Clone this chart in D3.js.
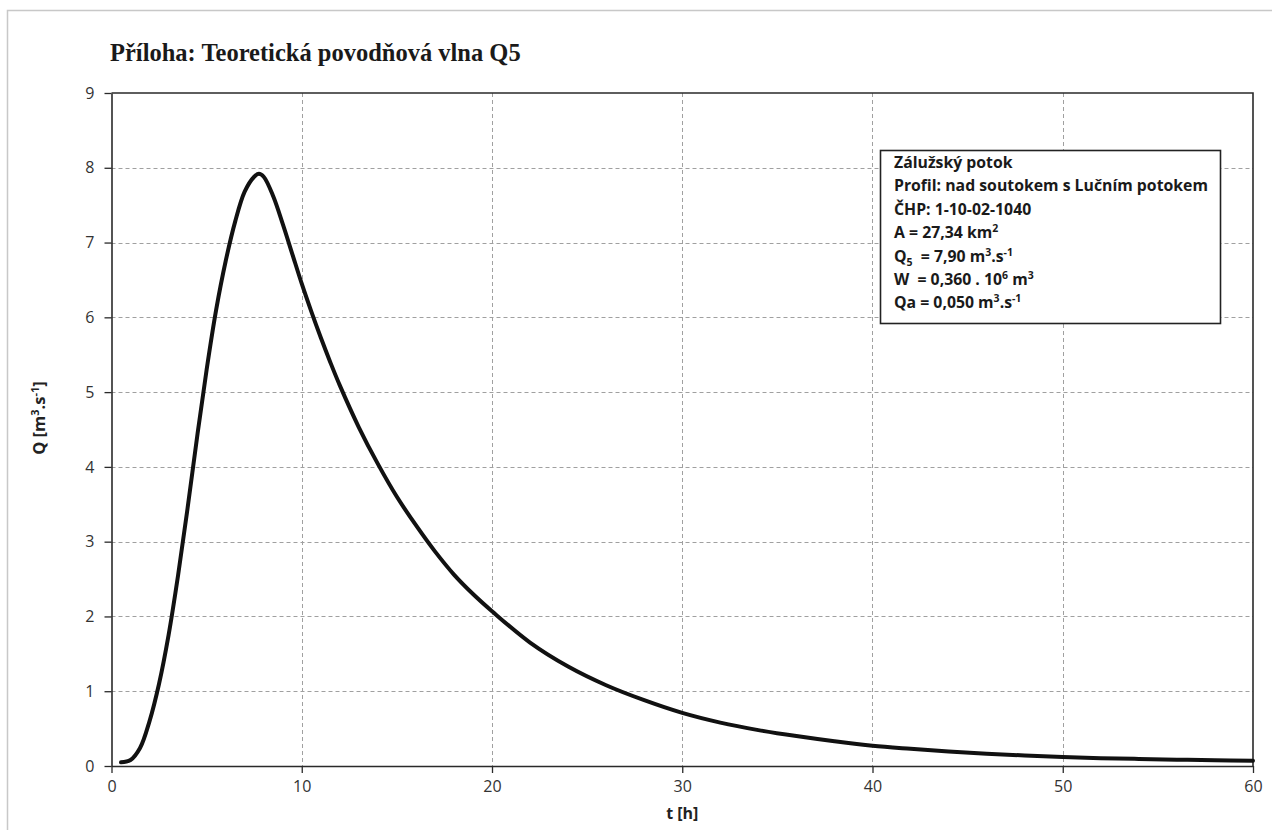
<!DOCTYPE html>
<html>
<head>
<meta charset="utf-8">
<script src="https://cdn.jsdelivr.net/npm/d3@7"></script>
<style>
  body { margin: 0; background: #fff; }
  svg { display: block; }
</style>
</head>
<body>
<svg id="chart" width="1272" height="830"></svg>
<script>
// hydrograph: time [h] and discharge [m3/s]
const hours = [0.5, 1, 1.5, 2, 2.5, 3, 3.5, 4, 4.5, 5, 5.5, 6, 6.5, 7, 7.5, 7.75, 8, 8.5, 9, 9.5,
  10, 10.5, 11, 11.5, 12, 13, 14, 15, 16, 17, 18, 19, 20, 22, 24, 26, 28, 30, 32, 34, 36, 38, 40,
  42, 44, 46, 48, 50, 52, 54, 56, 58, 60];
const discharge = [0.05, 0.08, 0.24, 0.6, 1.1, 1.75, 2.55, 3.45, 4.4, 5.3, 6.1, 6.75, 7.28, 7.68, 7.88, 7.92, 7.88, 7.62, 7.25, 6.85,
  6.45, 6.08, 5.73, 5.4, 5.09, 4.53, 4.04, 3.6, 3.22, 2.87, 2.56, 2.3, 2.07, 1.65, 1.33, 1.08, 0.88, 0.71, 0.58, 0.48, 0.40, 0.33, 0.27,
  0.23, 0.195, 0.165, 0.14, 0.12, 0.105, 0.095, 0.085, 0.077, 0.07];
const xTicks = [0, 10, 20, 30, 40, 50, 60];
const yTicks = [0, 1, 2, 3, 4, 5, 6, 7, 8, 9];

const infoLines = [
  [["Zálužský potok"]],
  [["Profil: nad soutokem s Lučním potokem"]],
  [["ČHP: 1-10-02-1040"]],
  [["A = 27,34 km"], ["2", "sup"]],
  [["Q"], ["5", "sub"], ["  = 7,90 m"], ["3", "sup"], [".s"], ["-1", "sup"]],
  [["W  = 0,360 . 10"], ["6", "sup"], [" m"], ["3", "sup"]],
  [["Qa = 0,050 m"], ["3", "sup"], [".s"], ["-1", "sup"]]
];

const data = hours.map((t, i) => ({t: t, q: discharge[i]}));

const svg = d3.select("#chart");
const margin = {left: 111.5, right: 1253, top: 93, bottom: 766};

const x = d3.scaleLinear().domain([0, 60]).range([margin.left, margin.right]);
const y = d3.scaleLinear().domain([0, 9]).range([margin.bottom, margin.top]);

// outer chart frame
svg.append("rect")
    .attr("x", 7.5).attr("y", 10.5)
    .attr("width", 1300).attr("height", 900)
    .attr("fill", "none")
    .attr("stroke", "#c8c8c8")
    .attr("stroke-width", 1.5);

svg.append("text")
    .attr("x", 110).attr("y", 61)
    .style("font", "bold 24.5px 'Liberation Serif', 'Times New Roman', serif")
    .attr("fill", "#1a1a1a")
    .text("Příloha: Teoretická povodňová vlna Q5");

// grid
const grid = svg.append("g")
    .attr("stroke", "#a0a0a0")
    .attr("stroke-width", 1)
    .attr("stroke-dasharray", "4,3");
grid.selectAll(".vg")
  .data(xTicks.slice(1, -1))
  .join("line")
    .attr("x1", d => Math.round(x(d)) + 0.5).attr("x2", d => Math.round(x(d)) + 0.5)
    .attr("y1", margin.top).attr("y2", margin.bottom);
grid.selectAll(".hg")
  .data(yTicks.slice(1, -1))
  .join("line")
    .attr("y1", d => Math.round(y(d)) + 0.5).attr("y2", d => Math.round(y(d)) + 0.5)
    .attr("x1", margin.left).attr("x2", margin.right);

// axes
const tickFont = "16px 'Open Sans', sans-serif";
const xAxis = svg.append("g")
    .attr("transform", `translate(0,${margin.bottom})`)
    .call(d3.axisBottom(x).tickValues(xTicks).tickSize(7).tickPadding(8).tickSizeOuter(0));
const yAxis = svg.append("g")
    .attr("transform", `translate(${margin.left},0)`)
    .call(d3.axisLeft(y).tickValues(yTicks).tickSize(7).tickPadding(10).tickSizeOuter(0));
[xAxis, yAxis].forEach(a => {
  a.select(".domain").attr("stroke", "#2a2a2a").attr("stroke-width", 1.6);
  a.selectAll(".tick line").attr("stroke", "#2a2a2a").attr("stroke-width", 1.3);
  a.selectAll(".tick text").style("font", tickFont).attr("fill", "#333");
});

// top and right frame of the plot
svg.append("path")
    .attr("d", `M${margin.left},${margin.top}H${margin.right}V${margin.bottom}`)
    .attr("fill", "none")
    .attr("stroke", "#2a2a2a")
    .attr("stroke-width", 1.6);

// the wave
const line = d3.line()
    .x(d => x(d.t))
    .y(d => y(d.q))
    .curve(d3.curveCatmullRom.alpha(0.5));
svg.append("path")
    .datum(data)
    .attr("d", line)
    .attr("fill", "none")
    .attr("stroke", "#111")
    .attr("stroke-width", 4)
    .attr("stroke-linecap", "round")
    .attr("stroke-linejoin", "round");

// axis titles
svg.append("text")
    .attr("x", x(30)).attr("y", 819)
    .attr("text-anchor", "middle")
    .style("font", "bold 16px 'Open Sans', sans-serif")
    .attr("fill", "#222")
    .text("t [h]");

const qTitle = svg.append("text")
    .attr("transform", "translate(45,418) rotate(-90)")
    .attr("text-anchor", "middle")
    .style("font", "bold 16.5px 'Open Sans', sans-serif")
    .attr("fill", "#222");
qTitle.append("tspan").text("Q [m");
qTitle.append("tspan").attr("dy", -6).style("font-size", "11px").text("3");
qTitle.append("tspan").attr("dy", 6).text(".s");
qTitle.append("tspan").attr("dy", -6).style("font-size", "11px").text("-1");
qTitle.append("tspan").attr("dy", 6).text("]");

// info box
const box = svg.append("g");
box.append("rect")
    .attr("x", 880.5).attr("y", 150.5)
    .attr("width", 340).attr("height", 173)
    .attr("fill", "#fff")
    .attr("stroke", "#222")
    .attr("stroke-width", 1.6);

const info = box.append("text")
    .style("font", "bold 15.8px 'Open Sans', sans-serif")
    .attr("fill", "#1a1a1a");
infoLines.forEach((parts, i) => {
  let shift = 0;
  parts.forEach((p, j) => {
    const ts = info.append("tspan").attr("xml:space", "preserve").text(p[0]);
    if (j === 0) ts.attr("x", 894).attr("y", 168 + i * 23.4);
    let target = p[1] === "sup" ? -6 : p[1] === "sub" ? 4 : 0;
    if (target !== shift) ts.attr("dy", target - shift);
    if (p[1]) ts.style("font-size", "10.5px");
    shift = target;
  });
});
</script>
</body>
</html>
